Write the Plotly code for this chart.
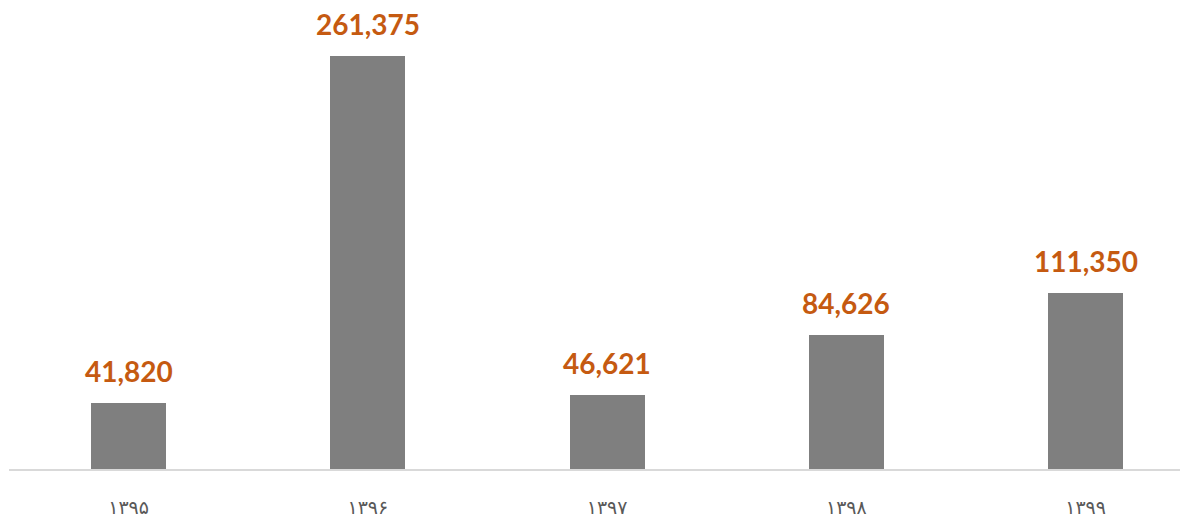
import plotly.graph_objects as go

categories = ["۱۳۹۵", "۱۳۹۶", "۱۳۹۷", "۱۳۹۸", "۱۳۹۹"]
values = [41820, 261375, 46621, 84626, 111350]
labels = [f"{v:,}" for v in values]

fig = go.Figure()
fig.add_trace(go.Bar(
    x=categories, y=values, width=0.313,
    marker=dict(color="#7f7f7f", line=dict(width=0)),
    hoverinfo="skip",
))
for c, v, t in zip(categories, values, labels):
    fig.add_annotation(x=c, y=v, text=f"<b>{t}</b>", showarrow=False,
                       yanchor="bottom", yshift=13,
                       font=dict(family="Lato", size=28, color="#c55a11"))

fig.update_layout(
    width=1180, height=509,
    margin=dict(l=1, r=0, t=0, b=48),
    paper_bgcolor="white", plot_bgcolor="white",
    showlegend=False,
    xaxis=dict(range=[-0.5, 4.428], showline=True, linecolor="#d9d9d9", linewidth=2,
               showgrid=False, ticks="", ticklabelstandoff=20, automargin=False,
               tickfont=dict(family="DejaVu Sans", size=19, color="#595959")),
    yaxis=dict(range=[0, 291770], visible=False, showgrid=False, automargin=False),
    bargap=0,
)
fig.write_html("out.html")
